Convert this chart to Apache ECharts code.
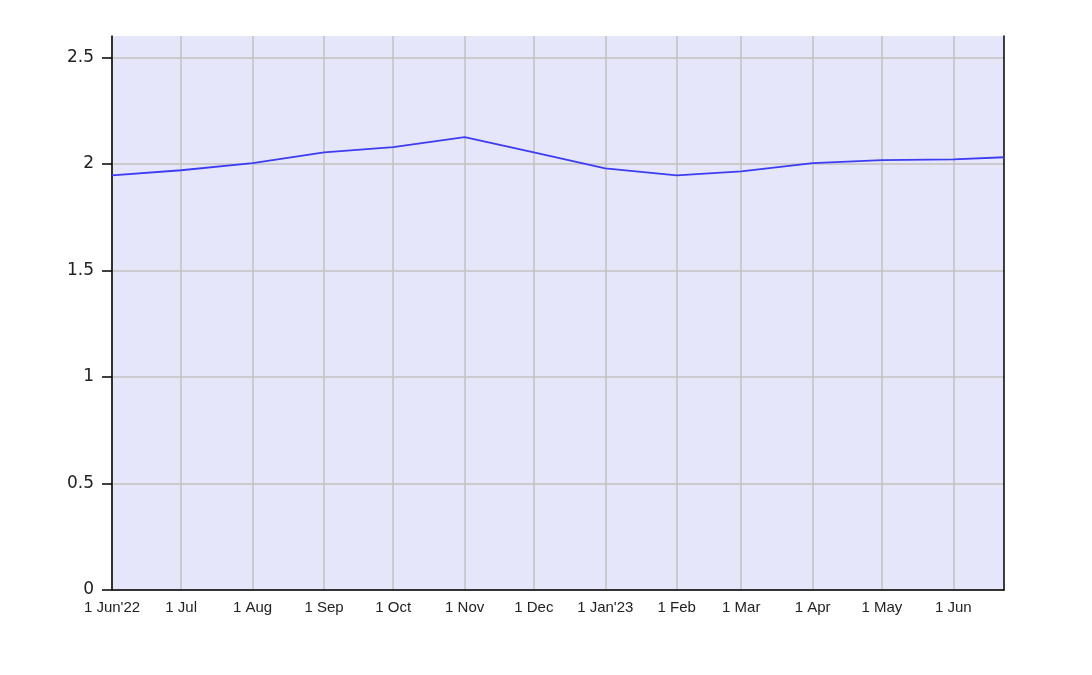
<!DOCTYPE html>
<html>
<head>
<meta charset="utf-8">
<script src="https://cdn.jsdelivr.net/npm/echarts@6/dist/echarts.min.js"></script>
<style>
html,body{margin:0;padding:0;background:#fff;}
#chart{width:1092px;height:675px;}
</style>
</head>
<body>
<div id="chart"></div>
<script>
// Data
const dates = ['2022-06-01','2022-07-01','2022-08-01','2022-09-01','2022-10-01','2022-11-01','2022-12-01',
               '2023-01-01','2023-02-01','2023-03-01','2023-04-01','2023-05-01','2023-06-01','2023-06-23'];
const values = [1.946, 1.970, 2.003, 2.054, 2.078, 2.125, 2.054, 1.979, 1.946, 1.965, 2.003, 2.017, 2.021, 2.031];
const monthNames = ['Jan','Feb','Mar','Apr','May','Jun','Jul','Aug','Sep','Oct','Nov','Dec'];
const xStart = '2022-06-01';
const xEnd = '2023-06-23';
const yMin = 0, yMax = 2.6, yStep = 0.5;

function toTs(s){ const p = s.split('-').map(Number); return Date.UTC(p[0], p[1]-1, p[2]); }
const seriesData = dates.map((d,i)=>[toTs(d), values[i]]);
const startTs = toTs(xStart);

const chart = echarts.init(document.getElementById('chart'));
chart.setOption({
  useUTC: true,
  animation: false,
  grid: {left:112, right:88, top:36, bottom:85, show:true, backgroundColor:'#e6e6fa', borderWidth:0},
  xAxis: {
    type:'time',
    min: toTs(xStart), max: toTs(xEnd),
    minInterval: 28*86400000, maxInterval: 31*86400000,
    axisLine:{show:true, lineStyle:{color:'#000', width:1.5}},
    axisTick:{show:false},
    splitLine:{show:true, showMaxLine:false, lineStyle:{color:'#c0c0c0', width:1.5}},
    axisLabel:{
      fontFamily:'Liberation Sans, Arial, sans-serif', fontSize:15, color:'#222', margin:10,
      hideOverlap:false, showMinLabel:true, showMaxLabel:false,
      formatter: function(v){
        const d = new Date(v);
        const m = d.getUTCMonth();
        let s = d.getUTCDate() + ' ' + monthNames[m];
        if (v === startTs || m === 0) s += "'" + String(d.getUTCFullYear()).slice(2);
        return s;
      }
    }
  },
  yAxis: [{
    type:'value', min:yMin, max:yMax, interval:yStep,
    axisLine:{show:true, lineStyle:{color:'#000', width:1.5}},
    axisTick:{show:true, length:10, lineStyle:{color:'#000', width:1.5}},
    splitLine:{show:true, showMaxLine:false, lineStyle:{color:'#c0c0c0', width:1.5}},
    axisLabel:{fontFamily:'DejaVu Sans, Verdana, sans-serif', fontSize:17, color:'#222', margin:18,
      showMaxLabel:false,
      formatter: function(v){ return String(v); }}
  },{
    type:'value', min:yMin, max:yMax, interval:yStep, position:'right',
    axisLine:{show:true, lineStyle:{color:'#000', width:1.5}},
    axisTick:{show:false}, axisLabel:{show:false}, splitLine:{show:false}
  }],
  series: [{
    type:'line', data:seriesData, showSymbol:false, symbol:'none',
    lineStyle:{color:'#3c3cf5', width:1.8}
  }]
});
</script>
</body>
</html>
